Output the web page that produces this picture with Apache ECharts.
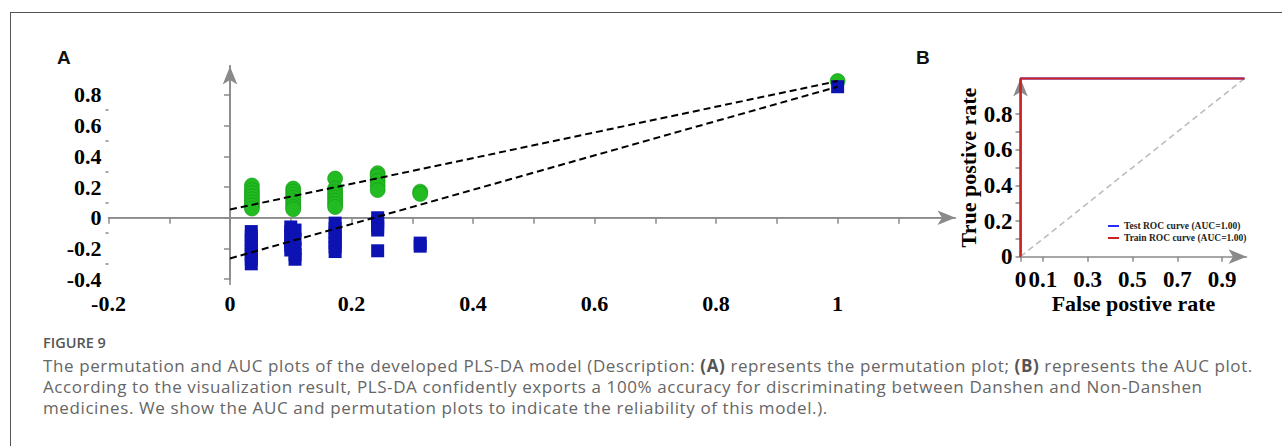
<!DOCTYPE html>
<html>
<head>
<meta charset="utf-8">
<script src="https://cdn.jsdelivr.net/npm/echarts@6/dist/echarts.min.js"></script>
<style>
  html, body { margin:0; padding:0; background:#fff; }
  #wrap { position:relative; width:1282px; height:446px; overflow:hidden; background:#fff; }
  #chart { position:absolute; left:0; top:0; width:1282px; height:446px; }
  #frame { position:absolute; left:10px; top:12px; width:1400px; height:500px; border-left:1px solid #555; border-top:1px solid #555; }
  .cap { position:absolute; left:43px; font-family:"Open Sans", sans-serif; color:#666; white-space:nowrap; }
  #figno { top:333px; font-size:14.5px; line-height:20px; font-weight:600; color:#555; }
  .ln { font-size:17px; line-height:21px; letter-spacing:0.6px; }
  .ln b { color:#555; font-weight:700; }
</style>
</head>
<body>
<div id="wrap">
  <div id="chart"></div>
  <div id="frame"></div>
  <div id="figno" class="cap">FIGURE 9</div>
  <div class="cap ln" style="top:355px">The permutation and AUC plots of the developed PLS-DA model (Description: <b>(A)</b> represents the permutation plot; <b>(B)</b> represents the AUC plot.</div>
  <div class="cap ln" style="top:376px">According to the visualization result, PLS-DA confidently exports a 100% accuracy for discriminating between Danshen and Non-Danshen</div>
  <div class="cap ln" style="top:397px">medicines. We show the AUC and permutation plots to indicate the reliability of this model.).</div>
</div>
<script>
// ---- Panel A: permutation plot data ----
const r2Points = [
  [0.036,0.21],[0.036,0.18],[0.036,0.16],[0.036,0.14],[0.036,0.12],[0.036,0.10],[0.036,0.08],[0.036,0.06],
  [0.104,0.19],[0.104,0.17],[0.104,0.15],[0.104,0.13],[0.104,0.11],[0.104,0.09],[0.104,0.07],[0.104,0.055],
  [0.173,0.255],[0.173,0.19],[0.173,0.17],[0.173,0.15],[0.173,0.13],[0.173,0.11],[0.173,0.09],[0.173,0.07],
  [0.243,0.29],[0.243,0.27],[0.243,0.24],[0.243,0.21],[0.243,0.18],
  [0.313,0.17],[0.313,0.155],
  [1.0,0.89]
];
const q2Points = [
  [0.035,-0.09],[0.035,-0.12],[0.035,-0.15],[0.035,-0.18],[0.035,-0.21],[0.035,-0.24],[0.035,-0.27],[0.035,-0.30],
  [0.100,-0.06],[0.100,-0.09],[0.100,-0.12],[0.100,-0.15],[0.100,-0.18],[0.100,-0.21],
  [0.107,-0.08],[0.107,-0.14],[0.107,-0.20],[0.107,-0.24],[0.107,-0.27],
  [0.173,-0.035],[0.173,-0.07],[0.173,-0.10],[0.173,-0.13],[0.173,-0.16],[0.173,-0.19],[0.173,-0.22],
  [0.243,0.0],[0.243,-0.03],[0.243,-0.06],[0.243,-0.08],[0.243,-0.215],
  [0.313,-0.165],[0.313,-0.185],
  [1.0,0.853]
];
const r2Line = [[0,0.054],[1,0.89]];
const q2Line = [[0,-0.265],[1,0.853]];
const zeroLineH = [[-0.2,0],[1.193,0]];
const zeroLineV = [[0,-0.438],[0,0.995]];
const xTicksA = [-0.2,-0.1,0,0.1,0.2,0.3,0.4,0.5,0.6,0.7,0.8,0.9,1,1.1];
const xLabelsA = [-0.2,0,0.2,0.4,0.6,0.8,1];
const yMajorA = [-0.4,-0.2,0,0.2,0.4,0.6,0.8];
const yMinorA = [-0.3,-0.1,0.1,0.3,0.5,0.7];

// ---- Panel B: ROC data ----
const rocTest = [[0,0],[0,1],[1,1]];
const rocTrain = [[0,0],[0,1],[1,1]];
const chanceLine = [[0,0],[1,1]];
const xTicksB = [0,0.1,0.3,0.5,0.7,0.9];
const yTicksB = [0,0.1,0.2,0.3,0.4,0.5,0.6,0.7,0.8];
const yLabelsB = [0,0.2,0.4,0.6,0.8];
const legendNames = ['Test ROC curve (AUC=1.00)','Train ROC curve (AUC=1.00)'];

const serif = '"Liberation Serif","Times New Roman",serif';
const axisGray = '#8a8a8a';

const chart = echarts.init(document.getElementById('chart'), null, {renderer:'svg'});

function axLine(){ return {show:true, lineStyle:{color:axisGray, width:1.6}, symbol:['none','arrow'], symbolSize:[11,18]}; }

const option = {
  animation:false,
  backgroundColor:'transparent',
  graphic:[
    {type:'text', left:57, top:48, style:{text:'A', font:'bold 19px "Liberation Sans", Arial, sans-serif', fill:'#111'}},
    {type:'text', left:916, top:48, style:{text:'B', font:'bold 19px "Liberation Sans", Arial, sans-serif', fill:'#111'}}
  ],
  legend:{
    data:legendNames, orient:'vertical', left:1103, top:216, itemWidth:11, itemHeight:2, itemGap:2, icon:'rect',
    textStyle:{fontFamily:serif, fontWeight:'bold', fontSize:9.5, color:'#222'}
  },
  grid:[
    {left:108.5, top:66.6, width:847, height:212.6},
    {left:1020.5, top:78.4, width:226, height:178.3}
  ],
  xAxis:[
    {type:'value', gridIndex:0, min:-0.2, max:1.194,
     axisLine:axLine(), splitLine:{show:false},
     axisTick:{show:true, customValues:xTicksA, length:6, lineStyle:{color:axisGray, width:1.5}},
     axisLabel:{customValues:xLabelsA, margin:13, fontFamily:serif, fontWeight:'bold', fontSize:22, color:'#000'}},
    {type:'value', gridIndex:1, min:0, max:1.009,
     axisLine:axLine(), splitLine:{show:false},
     axisTick:{show:true, customValues:xTicksB, length:5, lineStyle:{color:axisGray, width:1.5}},
     axisLabel:{customValues:xTicksB, margin:11, fontFamily:serif, fontWeight:'bold', fontSize:23, color:'#000'},
     name:'False postive rate', nameLocation:'middle', nameGap:36,
     nameTextStyle:{fontFamily:serif, fontWeight:'bold', fontSize:22, color:'#000'}}
  ],
  yAxis:[
    {type:'value', gridIndex:0, min:-0.4, max:0.984,
     axisLine:axLine(), splitLine:{show:false},
     axisTick:{show:true, customValues:yMajorA, length:6, lineStyle:{color:axisGray, width:1.5}},
     axisLabel:{customValues:yMajorA, margin:7, fontFamily:serif, fontWeight:'bold', fontSize:22, color:'#000'}},
    {type:'value', gridIndex:0, min:-0.4, max:0.984, position:'left',
     axisLine:{show:false}, splitLine:{show:false}, axisLabel:{show:false},
     axisTick:{show:true, customValues:yMinorA, length:3, lineStyle:{color:axisGray, width:1.5}}},
    {type:'value', gridIndex:1, min:0, max:1.0,
     axisLine:axLine(), splitLine:{show:false},
     axisTick:{show:true, customValues:yTicksB, length:5, lineStyle:{color:axisGray, width:1.5}},
     axisLabel:{customValues:yLabelsB, margin:8, fontFamily:serif, fontWeight:'bold', fontSize:23, color:'#000'},
     name:'True postive rate', nameLocation:'middle', nameGap:33,
     nameTextStyle:{fontFamily:serif, fontWeight:'bold', fontSize:22, color:'#000'}}
  ],
  series:[
    {type:'line', xAxisIndex:0, yAxisIndex:0, data:zeroLineH, symbol:'none', clip:false, z:1,
     lineStyle:{color:axisGray, width:1.6}},
    {type:'line', xAxisIndex:0, yAxisIndex:0, data:zeroLineV, symbol:'none', clip:false, z:1,
     lineStyle:{color:axisGray, width:1.6}},
    {type:'scatter', name:'R2', xAxisIndex:0, yAxisIndex:0, data:r2Points, symbol:'circle', symbolSize:15, clip:false, z:2,
     itemStyle:{color:'#22bb22', borderColor:'#119911', borderWidth:0.6, opacity:1}},
    {type:'scatter', name:'Q2', xAxisIndex:0, yAxisIndex:0, data:q2Points, symbol:'rect', symbolSize:13, clip:false, z:3,
     itemStyle:{color:'#0d12b3', opacity:1}},
    {type:'line', xAxisIndex:0, yAxisIndex:0, data:r2Line, symbol:'none', clip:false, z:4,
     lineStyle:{color:'#000', width:2, type:[7,4]}},
    {type:'line', xAxisIndex:0, yAxisIndex:0, data:q2Line, symbol:'none', clip:false, z:4,
     lineStyle:{color:'#000', width:2, type:[7,4]}},
    {type:'line', xAxisIndex:1, yAxisIndex:2, data:chanceLine, symbol:'none', clip:false, z:1,
     lineStyle:{color:'#bdbdbd', width:1.6, type:[6,4]}},
    {type:'line', name:legendNames[0], xAxisIndex:1, yAxisIndex:2, data:rocTest, symbol:'none', clip:false, z:2,
     itemStyle:{color:'#2b2bff'}, lineStyle:{color:'#2b2bff', width:2}},
    {type:'line', name:legendNames[1], xAxisIndex:1, yAxisIndex:2, data:rocTrain, symbol:'none', clip:false, z:3,
     itemStyle:{color:'#cc2222'}, lineStyle:{color:'#cc2222', width:2}}
  ]
};
chart.setOption(option);
</script>
</body>
</html>
